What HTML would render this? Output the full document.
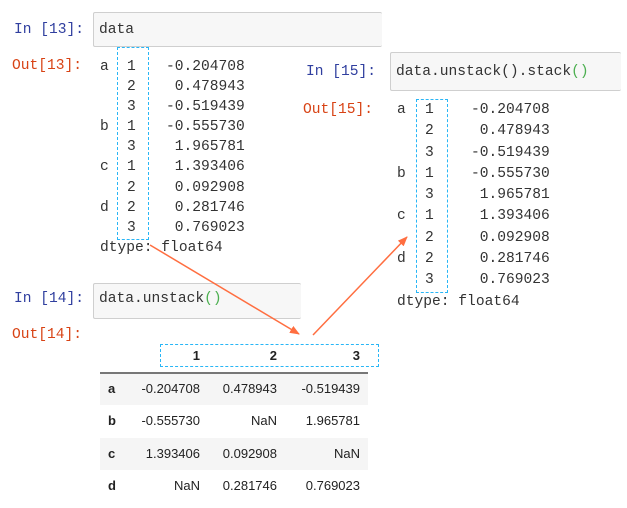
<!DOCTYPE html>
<html><head><meta charset="utf-8"><style>
body{margin:0;width:627px;height:508px;background:#fff;position:relative;overflow:hidden;font-family:"Liberation Mono",monospace;font-size:14.6px;color:#333}
.a{position:absolute;white-space:pre;line-height:18px}
.in{color:#303f9f}.out{color:#d84315}
.box{position:absolute;background:#f7f7f7;border:1px solid #cfcfcf;border-radius:2px}
.dash{position:absolute;border:1.5px dashed #29b6f6}
.t{position:absolute;font-family:"Liberation Sans",sans-serif;font-size:13px;color:#222;white-space:pre;line-height:16px}
.g{color:#4caf50}
</style></head><body>
<div class="box" style="left:93px;top:12px;width:288px;height:33px;border-right:none"></div>
<div class="a in" style="left:14px;top:21px">In [13]:</div>
<div class="a" style="left:99px;top:21px">data</div>
<div class="a out" style="left:12px;top:57px">Out[13]:</div>
<div class="a" style="left:100px;top:57px;line-height:20.1px">a
 
 
b
 
c
 
d
 
dtype: float64</div>
<div class="a" style="left:127px;top:57px;line-height:20.1px">1
2
3
1
3
1
2
2
3</div>
<div class="a" style="left:166px;top:57px;line-height:20.1px">-0.204708
 0.478943
-0.519439
-0.555730
 1.965781
 1.393406
 0.092908
 0.281746
 0.769023</div>
<div class="dash" style="left:117px;top:47px;width:30px;height:191px"></div>

<div class="box" style="left:390px;top:52px;width:230px;height:37px;border-right:none"></div>
<div class="a in" style="left:306px;top:63px">In [15]:</div>
<div class="a" style="left:396px;top:63px">data.unstack().stack<span class="g">()</span></div>
<div class="a out" style="left:303px;top:101px">Out[15]:</div>
<div class="a" style="left:397px;top:100px;line-height:21.3px">a
 
 
b
 
c
 
d
 
dtype: float64</div>
<div class="a" style="left:425px;top:100px;line-height:21.3px">1
2
3
1
3
1
2
2
3</div>
<div class="a" style="left:471px;top:100px;line-height:21.3px">-0.204708
 0.478943
-0.519439
-0.555730
 1.965781
 1.393406
 0.092908
 0.281746
 0.769023</div>
<div class="dash" style="left:416px;top:99px;width:30px;height:192px"></div>

<div class="box" style="left:93px;top:283px;width:207px;height:34px;border-right:none"></div>
<div class="a in" style="left:14px;top:290px">In [14]:</div>
<div class="a" style="left:99px;top:290px">data.unstack<span class="g">()</span></div>
<div class="a out" style="left:12px;top:326px">Out[14]:</div>

<div style="position:absolute;left:100px;top:372px;width:268px;height:2px;background:#777"></div>
<div style="position:absolute;left:100px;top:374px;width:268px;height:31px;background:#f5f5f5"></div>
<div style="position:absolute;left:100px;top:438px;width:268px;height:32px;background:#f5f5f5"></div>
<div class="t" style="left:160px;top:348px;width:40px;text-align:right;font-weight:bold">1</div>
<div class="t" style="left:237px;top:348px;width:40px;text-align:right;font-weight:bold">2</div>
<div class="t" style="left:320px;top:348px;width:40px;text-align:right;font-weight:bold">3</div>
<div class="dash" style="left:160px;top:344px;width:217px;height:21px"></div>
<div class="t" style="left:108px;top:373px;font-weight:bold;line-height:32.3px">a
b
c
d</div>
<div class="t" style="left:120px;top:373px;width:80px;text-align:right;line-height:32.3px">-0.204708
-0.555730
1.393406
NaN</div>
<div class="t" style="left:197px;top:373px;width:80px;text-align:right;line-height:32.3px">0.478943
NaN
0.092908
0.281746</div>
<div class="t" style="left:280px;top:373px;width:80px;text-align:right;line-height:32.3px">-0.519439
1.965781
NaN
0.769023</div>

<svg style="position:absolute;left:0;top:0" width="627" height="508">
<defs><marker id="m" markerWidth="10" markerHeight="8" refX="9" refY="4" orient="auto" markerUnits="userSpaceOnUse"><path d="M0,0 L10,4 L0,8 z" fill="#ff6e40"/></marker></defs>
<line x1="150" y1="245" x2="299" y2="334" stroke="#ff6e40" stroke-width="1.5" marker-end="url(#m)"/>
<line x1="313" y1="335" x2="407" y2="237" stroke="#ff6e40" stroke-width="1.5" marker-end="url(#m)"/>
</svg>
</body></html>
